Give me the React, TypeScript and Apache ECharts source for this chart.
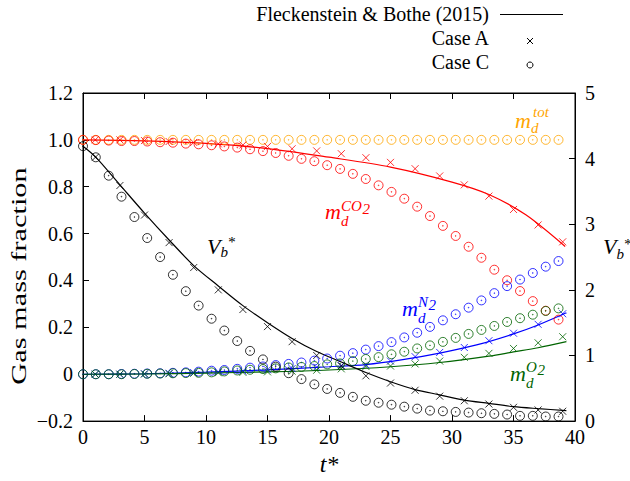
import React, { useEffect, useRef } from 'react';
import * as echarts from 'echarts';

// ---- Data ----
const tA = [1, 3, 5, 7, 9, 11, 13, 15, 17, 19, 21, 23, 25, 27, 29, 31, 33, 35, 37, 39];
const tC = [0, 1.04, 2.09, 3.13, 4.18, 5.22, 6.27, 7.31, 8.36, 9.4, 10.45, 11.49, 12.54, 13.58, 14.63, 15.67, 16.72, 17.76, 18.81, 19.85, 20.9, 21.94, 22.99, 24.03, 25.08, 26.12, 27.17, 28.21, 29.26, 30.3, 31.35, 32.39, 33.44, 34.48, 35.53, 36.57, 37.62, 38.66];

const totC = [1, 1, 1, 1, 1, 1, 1, 1, 1, 1, 1, 1, 1, 1, 1, 1, 1, 1, 1, 1, 1, 1, 1, 1, 1, 1, 1, 1, 1, 1, 1, 1, 1, 1, 1, 1, 1, 1];

const co2C = [1.0, 0.999, 0.997, 0.995, 0.995, 0.993, 0.99, 0.988, 0.984, 0.981, 0.977, 0.972, 0.967, 0.96, 0.952, 0.944, 0.932, 0.919, 0.909, 0.892, 0.876, 0.855, 0.833, 0.806, 0.778, 0.749, 0.715, 0.675, 0.633, 0.59, 0.544, 0.497, 0.446, 0.401, 0.355, 0.312, 0.271, 0.233];
const co2A = [1.0, 1.0, 0.997, 0.993, 0.989, 0.983, 0.978, 0.972, 0.962, 0.953, 0.941, 0.924, 0.904, 0.877, 0.846, 0.808, 0.76, 0.703, 0.637, 0.565];
const co2LineT = [0, 5, 10, 15, 20, 25, 30, 33, 36, 39.2];
const co2LineV = [1.0, 0.996, 0.985, 0.963, 0.926, 0.884, 0.82, 0.767, 0.68, 0.545];

const vbC = [4.19, 4.02, 3.74, 3.42, 3.11, 2.79, 2.5, 2.23, 1.98, 1.76, 1.56, 1.38, 1.22, 1.07, 0.94, 0.83, 0.73, 0.64, 0.56, 0.49, 0.43, 0.37, 0.31, 0.28, 0.25, 0.22, 0.19, 0.16, 0.15, 0.14, 0.13, 0.12, 0.11, 0.1, 0.08, 0.08, 0.07, 0.07];
const vbA = [4.02, 3.59, 3.14, 2.72, 2.34, 2.0, 1.7, 1.44, 1.21, 1.0, 0.84, 0.69, 0.58, 0.47, 0.38, 0.31, 0.26, 0.21, 0.17, 0.15];
const vbLineT = [0, 1, 3, 5, 7, 9, 11, 13, 15, 17, 19, 21, 23, 25, 27, 29, 31, 33, 35, 37, 39.3];
const vbLineV = [4.19, 4.03, 3.6, 3.17, 2.76, 2.37, 2.06, 1.76, 1.5, 1.26, 1.06, 0.9, 0.74, 0.6, 0.48, 0.4, 0.32, 0.27, 0.22, 0.19, 0.16];

const n2C = [0, 0, 0, 0.001, 0.002, 0.003, 0.004, 0.006, 0.008, 0.011, 0.015, 0.018, 0.023, 0.028, 0.033, 0.039, 0.044, 0.05, 0.058, 0.067, 0.079, 0.09, 0.105, 0.12, 0.137, 0.157, 0.177, 0.202, 0.23, 0.256, 0.284, 0.315, 0.346, 0.376, 0.404, 0.432, 0.459, 0.483];
const n2A = [0, 0, 0.002, 0.004, 0.007, 0.01, 0.014, 0.019, 0.024, 0.03, 0.037, 0.04, 0.056, 0.075, 0.093, 0.114, 0.143, 0.175, 0.213, 0.258];
const n2LineT = [0, 5, 10, 15, 20, 23, 26, 29, 32, 35, 37, 39.3];
const n2LineV = [0, 0.002, 0.009, 0.019, 0.032, 0.041, 0.062, 0.09, 0.125, 0.172, 0.21, 0.262];

const o2C = [0, 0, 0, 0, 0.001, 0.002, 0.003, 0.004, 0.005, 0.006, 0.008, 0.012, 0.016, 0.019, 0.022, 0.025, 0.029, 0.031, 0.035, 0.042, 0.046, 0.056, 0.065, 0.073, 0.085, 0.096, 0.11, 0.123, 0.138, 0.155, 0.172, 0.189, 0.206, 0.223, 0.239, 0.254, 0.27, 0.281];
const o2A = [0, 0, 0.001, 0.002, 0.004, 0.006, 0.008, 0.01, 0.013, 0.017, 0.023, 0.033, 0.035, 0.044, 0.056, 0.072, 0.089, 0.11, 0.134, 0.16];
const o2LineT = [0, 5, 10, 15, 20, 25, 29, 33, 35, 37, 39.3];
const o2LineV = [0, 0.001, 0.005, 0.01, 0.018, 0.032, 0.05, 0.077, 0.095, 0.113, 0.139];

const yLeftLabels = ['\u22120.2', '0', '0.2', '0.4', '0.6', '0.8', '1.0', '1.2'];
const yRightLabels = ['0', '1', '2', '3', '4', '5'];
const xLabels = ['0', '5', '10', '15', '20', '25', '30', '35', '40'];

const legendNames = ['Fleckenstein & Bothe (2015)', 'Case A', 'Case C'];

// ---- Styles ----
const FONT = 'Liberation Serif';
const RED = '#ff0000';
const BLUE = '#0000ff';
const GREEN = '#006400';
const ORANGE = '#ffa500';
const BLACK = '#000000';
const SS = 15; // sub/superscript font size

const CIRCLE_DOT = 'path://M0,10A10,10 0 1,1 20,10A10,10 0 1,1 0,10Z M9.2,10A0.8,0.8 0 1,1 10.8,10A0.8,0.8 0 1,1 9.2,10Z';
const CROSS = 'path://M0,0L10,10M10,0L0,10';

const zip = (xs: number[], ys: number[]) => xs.map((x, i) => [x, ys[i]]);

function lineSeries(name: string, t: number[], v: number[], color: string, yAxisIndex: number) {
  return {
    name,
    type: 'line',
    yAxisIndex,
    data: zip(t, v),
    showSymbol: false,
    smooth: 0.3,
    lineStyle: { color, width: 1.2 },
    itemStyle: { color },
    silent: true,
    z: 2,
  };
}

function pointSeries(name: string, t: number[], v: number[], color: string, yAxisIndex: number, kind: 'A' | 'C') {
  return {
    name,
    type: 'scatter',
    yAxisIndex,
    data: zip(t, v),
    symbol: kind === 'A' ? CROSS : CIRCLE_DOT,
    symbolSize: kind === 'A' ? 7 : 9,
    itemStyle: { color: 'rgba(0,0,0,0)', borderColor: color, borderWidth: 1 },
    silent: true,
    z: 3,
  };
}

function txt(text: string, x: number, y: number, size: number, color: string, italic = true, align = 'left') {
  return {
    type: 'text',
    x,
    y,
    silent: true,
    style: {
      text,
      fill: color,
      fontSize: size,
      fontFamily: FONT,
      fontStyle: italic ? 'italic' : 'normal',
      textAlign: align,
      textVerticalAlign: 'middle',
    },
  };
}

function buildOption() {
  const graphics: any[] = [
    // legend
    txt(legendNames[0], 489, 14, 20, BLACK, false, 'right'),
    { type: 'line', silent: true, shape: { x1: 500, y1: 14.5, x2: 563, y2: 14.5 }, style: { stroke: BLACK, lineWidth: 1 } },
    txt(legendNames[1], 489, 38, 20, BLACK, false, 'right'),
    { type: 'line', silent: true, shape: { x1: 527, y1: 38, x2: 533, y2: 44 }, style: { stroke: BLACK, lineWidth: 1 } },
    { type: 'line', silent: true, shape: { x1: 533, y1: 38, x2: 527, y2: 44 }, style: { stroke: BLACK, lineWidth: 1 } },
    txt(legendNames[2], 489, 62, 20, BLACK, false, 'right'),
    { type: 'circle', silent: true, shape: { cx: 530, cy: 65, r: 3 }, style: { stroke: BLACK, fill: 'none', lineWidth: 1 } },
    { type: 'circle', silent: true, shape: { cx: 530, cy: 65, r: 0.5 }, style: { stroke: BLACK, fill: BLACK, lineWidth: 0.5 } },

    // y axis name (left)
    {
      type: 'text',
      x: 19,
      y: 276,
      rotation: Math.PI / 2,
      scaleX: 1.38,
      silent: true,
      style: {
        text: 'Gas mass fraction',
        fill: BLACK,
        fontSize: 22,
        fontFamily: FONT,
        textAlign: 'center',
        textVerticalAlign: 'middle',
      },
    },

    // right axis name V_b*
    txt('V', 603, 246, 22, BLACK),
    txt('b', 616.5, 254, SS, BLACK),
    txt('*', 623.5, 243.5, SS, BLACK),

    // m_d^tot
    txt('m', 515, 120, 22, ORANGE),
    txt('d', 531, 128, SS, ORANGE),
    txt('tot', 533, 112, SS, ORANGE),

    // m_d^CO2
    txt('m', 325, 211, 22, RED),
    txt('d', 341, 221, SS, RED),
    txt('CO', 341, 205.5, SS, RED),
    txt('2', 362.5, 208.5, SS, RED),

    // V_b* in plot
    txt('V', 207, 246, 22, BLACK),
    txt('b', 220.5, 252, SS, BLACK),
    txt('*', 227.5, 242, SS, BLACK),

    // m_d^N2
    txt('m', 402, 308, 22, BLUE),
    txt('d', 418, 318, SS, BLUE),
    txt('N', 418, 302, SS, BLUE),
    txt('2', 428.5, 305, SS, BLUE),

    // m_d^O2
    txt('m', 510, 373, 22, GREEN),
    txt('d', 526, 383, SS, GREEN),
    txt('O', 526, 367, SS, GREEN),
    txt('2', 537.5, 370, SS, GREEN),
  ];

  const axisLabelStyle = { color: BLACK, fontSize: 20, fontFamily: FONT };

  return {
    animation: false,
    backgroundColor: '#ffffff',
    textStyle: { fontFamily: FONT },
    grid: { left: 83, right: 55, top: 93, bottom: 58, show: true, borderColor: BLACK, borderWidth: 1, backgroundColor: 'transparent' },
    xAxis: [
      {
        type: 'value',
        min: 0,
        max: 40,
        interval: 5,
        position: 'bottom',
        name: 't*',
        nameLocation: 'middle',
        nameGap: 25,
        nameTextStyle: { color: BLACK, fontSize: 24, fontFamily: FONT, fontStyle: 'italic' },
        axisLine: { show: true, onZero: false, lineStyle: { color: BLACK, width: 1 } },
        axisTick: { show: true, inside: true, length: 6, lineStyle: { color: BLACK } },
        axisLabel: {
          ...axisLabelStyle,
          margin: 6,
          formatter: (v: number) => xLabels[Math.round(v / 5)] ?? '',
        },
        splitLine: { show: false },
      },
      {
        type: 'value',
        min: 0,
        max: 40,
        interval: 5,
        position: 'top',
        axisLine: { show: true, onZero: false, lineStyle: { color: BLACK, width: 1 } },
        axisTick: { show: true, inside: true, length: 6, lineStyle: { color: BLACK } },
        axisLabel: { show: false },
        splitLine: { show: false },
      },
    ],
    yAxis: [
      {
        type: 'value',
        min: -0.2,
        max: 1.2,
        interval: 0.2,
        position: 'left',
        axisLine: { show: true, onZero: false, lineStyle: { color: BLACK, width: 1 } },
        axisTick: { show: true, inside: true, length: 6, lineStyle: { color: BLACK } },
        axisLabel: {
          ...axisLabelStyle,
          margin: 10,
          formatter: (v: number) => yLeftLabels[Math.round((v + 0.2) / 0.2)] ?? '',
        },
        splitLine: { show: false },
      },
      {
        type: 'value',
        min: 0,
        max: 5,
        interval: 1,
        position: 'right',
        axisLine: { show: true, onZero: false, lineStyle: { color: BLACK, width: 1 } },
        axisTick: { show: true, inside: true, length: 6, lineStyle: { color: BLACK } },
        axisLabel: {
          ...axisLabelStyle,
          margin: 10,
          formatter: (v: number) => yRightLabels[Math.round(v)] ?? '',
        },
        splitLine: { show: false },
      },
    ],
    series: [
      lineSeries('CO2 F&B', co2LineT, co2LineV, RED, 0),
      lineSeries('N2 F&B', n2LineT, n2LineV, BLUE, 0),
      lineSeries('O2 F&B', o2LineT, o2LineV, GREEN, 0),
      lineSeries('Vb F&B', vbLineT, vbLineV, BLACK, 1),
      pointSeries('tot C', tC, totC, ORANGE, 0, 'C'),
      pointSeries('CO2 A', tA, co2A, RED, 0, 'A'),
      pointSeries('CO2 C', tC, co2C, RED, 0, 'C'),
      pointSeries('N2 A', tA, n2A, BLUE, 0, 'A'),
      pointSeries('N2 C', tC, n2C, BLUE, 0, 'C'),
      pointSeries('O2 A', tA, o2A, GREEN, 0, 'A'),
      pointSeries('O2 C', tC, o2C, GREEN, 0, 'C'),
      pointSeries('Vb A', tA, vbA, BLACK, 1, 'A'),
      pointSeries('Vb C', tC, vbC, BLACK, 1, 'C'),
    ],
    graphic: { elements: graphics },
  };
}

export default function App() {
  const ref = useRef<HTMLDivElement>(null);
  useEffect(() => {
    if (!ref.current) return;
    const chart = echarts.init(ref.current, undefined, { renderer: 'svg' });
    chart.setOption(buildOption() as any);
    return () => chart.dispose();
  }, []);
  return <div ref={ref} style={{ position: 'absolute', left: 0, top: 0, width: 630, height: 481 }} />;
}
